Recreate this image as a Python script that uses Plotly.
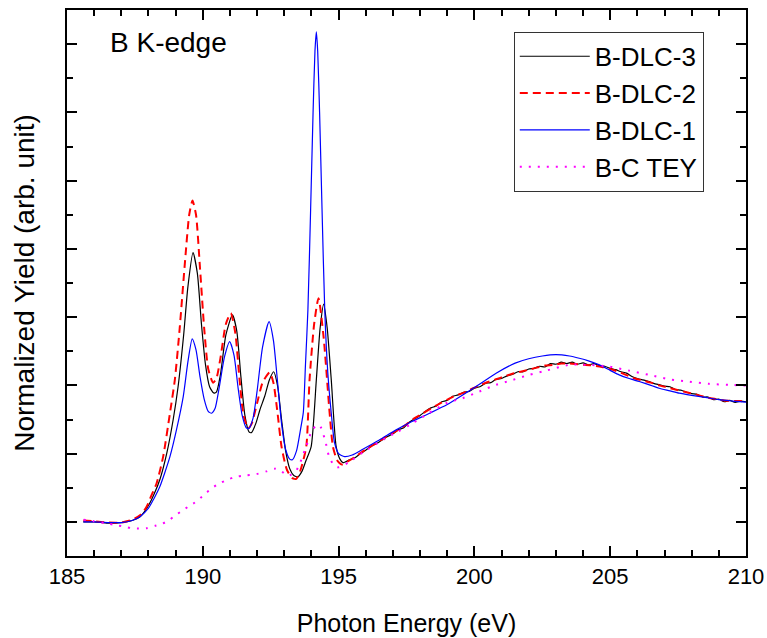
import plotly.graph_objects as go

# ---- B-DLC-3 (black) ----
e_dlc3 = [185.6, 186.0, 186.5, 187.0, 187.4, 187.7, 188.0, 188.2, 188.42, 188.67,
          188.91, 189.09, 189.3, 189.45, 189.64, 189.8, 189.95, 190.1, 190.25, 190.4,
          190.5, 190.65, 190.85, 191.09, 191.25, 191.4, 191.55, 191.7, 191.79, 191.95,
          192.1, 192.28, 192.45, 192.61, 192.75, 192.9, 193.05, 193.2, 193.35, 193.5,
          193.65, 193.8, 193.99, 194.18, 194.32, 194.45, 194.58, 194.73, 194.91, 195.05,
          195.16, 195.4,
          195.6, 195.8, 196.0, 196.2, 196.4, 196.6, 196.8, 197.0, 197.2, 197.4,
          197.6, 197.8, 198.0, 198.2, 198.4, 198.6, 198.8, 199.0, 199.2, 199.4,
          199.6, 199.8, 200.0, 200.2, 200.4, 200.6, 200.8, 201.0, 201.2, 201.4,
          201.6, 201.8, 202.0, 202.2, 202.4, 202.6, 202.8, 203.0, 203.2, 203.4,
          203.6, 203.8, 204.0, 204.2, 204.4, 204.6, 204.8, 205.0, 205.2, 205.4,
          205.6, 205.8, 206.0, 206.2, 206.4, 206.6, 206.8, 207.0, 207.2, 207.4,
          207.6, 207.8, 208.0, 208.2, 208.4, 208.6, 208.8, 209.0, 209.2, 209.4,
          209.6, 209.8, 210.0]
y_dlc3 = [0.0, 0.0, -0.01, -0.005, 0.01, 0.04, 0.12, 0.2, 0.31, 0.5,
          0.75, 0.99, 1.38, 1.72, 1.973, 1.82, 1.45, 1.15, 0.99, 0.945,
          0.95, 1.08, 1.37, 1.516, 1.4, 1.07, 0.78, 0.66, 0.654, 0.72,
          0.82, 0.92, 1.04, 1.1, 1.0, 0.75, 0.52, 0.39, 0.34, 0.33,
          0.37, 0.45, 0.552, 1.04, 1.42, 1.595, 1.42, 1.04, 0.552, 0.46,
          0.434, 0.455,
          0.47, 0.5, 0.525, 0.555, 0.575, 0.6, 0.625, 0.645, 0.675, 0.69,
          0.73, 0.755, 0.78, 0.81, 0.835, 0.85, 0.88, 0.89, 0.92, 0.93,
          0.95, 0.955, 0.98, 0.99, 1.015, 1.02, 1.045, 1.05, 1.07, 1.08,
          1.1, 1.1, 1.12, 1.125, 1.14, 1.135, 1.16, 1.155, 1.17, 1.16,
          1.17, 1.155, 1.165, 1.15, 1.16, 1.145, 1.14, 1.125, 1.115, 1.1,
          1.09, 1.065, 1.05, 1.04, 1.03, 1.015, 1.005, 0.995, 0.99, 0.97,
          0.965, 0.95, 0.94, 0.935, 0.915, 0.915, 0.895, 0.9, 0.88, 0.89,
          0.875, 0.885, 0.88]

# ---- B-DLC-2 (red dashed) ----
e_dlc2 = [185.6, 186.0, 186.5, 187.0, 187.4, 187.7, 187.93, 188.1, 188.3, 188.54,
          188.79, 188.97, 189.15, 189.35, 189.5, 189.62, 189.75, 189.9, 190.05, 190.2,
          190.38, 190.5, 190.65, 190.85, 191.03, 191.2, 191.35, 191.5, 191.67, 191.8,
          192.0, 192.2, 192.46, 192.6, 192.75, 192.9, 193.1, 193.3, 193.44, 193.6,
          193.81, 193.93, 194.1, 194.26, 194.45, 194.67, 194.79, 194.95, 195.12,
          195.4, 195.7, 196.0, 196.3, 196.6, 196.9, 197.2, 197.5, 197.8, 198.1,
          198.4, 198.7, 199.0, 199.3, 199.6, 199.9, 200.2, 200.5, 200.8, 201.1,
          201.4, 201.7, 202.0, 202.3, 202.6, 202.9, 203.2, 203.5, 203.8, 204.1,
          204.4, 204.7, 205.0, 205.3, 205.6, 205.9, 206.2, 206.5, 206.8, 207.1,
          207.4, 207.7, 208.0, 208.3, 208.6, 208.9, 209.2, 209.5, 209.8, 210.0]
y_dlc2 = [0.01, 0.005, -0.005, -0.005, 0.015, 0.05, 0.11, 0.19, 0.283, 0.478,
          0.796, 1.04, 1.42, 1.92, 2.25, 2.354, 2.25, 1.85, 1.42, 1.12,
          1.02, 1.05, 1.2, 1.45, 1.529, 1.38, 1.05, 0.78, 0.686, 0.72,
          0.87, 1.02, 1.094, 1.02, 0.8, 0.55, 0.38, 0.32, 0.315, 0.38,
          0.552, 1.04, 1.45, 1.639, 1.35, 0.796, 0.552, 0.45, 0.42,
          0.45, 0.49, 0.53, 0.565, 0.605, 0.64, 0.675, 0.715, 0.76, 0.795,
          0.83, 0.865, 0.895, 0.925, 0.945, 0.975, 1.0, 1.025, 1.045, 1.065,
          1.085, 1.1, 1.115, 1.13, 1.145, 1.15, 1.16, 1.16, 1.155, 1.15,
          1.145, 1.135, 1.12, 1.1, 1.075, 1.05, 1.035, 1.02, 1.0, 0.985,
          0.97, 0.955, 0.94, 0.925, 0.91, 0.9, 0.89, 0.885, 0.885, 0.88]

# ---- B-DLC-1 (blue) ----
e_dlc1 = [185.6, 186.0, 186.5, 187.0, 187.4, 187.7, 188.0, 188.2, 188.42, 188.6,
          188.79, 189.03, 189.28, 189.45, 189.61, 189.75, 189.9, 190.05, 190.2, 190.32,
          190.45, 190.6, 190.8, 190.99, 191.15, 191.3, 191.45, 191.6, 191.7, 191.85,
          192.0, 192.2, 192.44, 192.6, 192.75, 192.9, 193.05, 193.2, 193.3, 193.45,
          193.6, 193.7, 193.78, 193.87, 193.97, 194.06, 194.13, 194.18, 194.23, 194.3,
          194.39, 194.49, 194.6, 194.73, 194.85, 195.0, 195.22, 195.5, 195.89, 196.5,
          197.12, 197.7, 198.35, 199.0, 199.57, 200.2, 200.8, 201.5, 202.0, 202.5,
          203.0, 203.5, 203.86, 204.2, 204.6, 205.0, 205.33, 205.7, 206.07, 206.5,
          206.8, 207.2, 207.54, 208.0, 208.5, 209.0, 209.5, 210.0]
y_dlc1 = [0.0, 0.0, -0.005, -0.005, 0.01, 0.04, 0.1, 0.17, 0.259, 0.36,
          0.478, 0.674, 0.918, 1.17, 1.341, 1.26, 1.06, 0.9, 0.81, 0.796,
          0.83, 0.98, 1.21, 1.321, 1.22, 0.98, 0.78, 0.69, 0.685, 0.76,
          0.96, 1.28, 1.467, 1.33, 1.03, 0.72, 0.53, 0.46, 0.455, 0.52,
          0.68, 0.8, 1.15, 1.553, 2.29, 3.0, 3.45, 3.59, 3.45, 3.0,
          2.29, 1.553, 1.1, 0.796, 0.58, 0.5, 0.478, 0.49, 0.532, 0.6,
          0.674, 0.735, 0.796, 0.86, 0.93, 1.01, 1.089, 1.163, 1.195, 1.215,
          1.225, 1.215, 1.199, 1.18, 1.15, 1.11, 1.077, 1.05, 1.028, 1.0,
          0.979, 0.96, 0.943, 0.927, 0.912, 0.895, 0.885, 0.877]

# ---- B-C TEY (magenta dotted) ----
e_tey = [185.61, 186.0, 186.4, 186.78, 187.08, 187.39, 187.65, 187.94, 188.25, 188.49,
         188.74, 188.98, 189.23, 189.47, 189.72, 190.0, 190.26, 190.55, 190.87, 191.2,
         191.54, 191.97, 192.34, 192.65, 192.9, 193.14, 193.45, 193.8, 194.05, 194.28,
         194.5, 194.65, 194.85, 195.0, 195.4, 195.9, 196.5, 197.12, 197.7, 198.35,
         198.96, 199.57, 200.18, 200.8, 201.41, 202.02, 202.64, 203.49, 204.23, 204.96,
         205.7, 206.43, 207.17, 207.9, 208.64, 209.38, 210.0]
y_tey = [0.015, 0.005, -0.01, -0.022, -0.034, -0.046, -0.048, -0.046, -0.029, -0.015,
         0.01, 0.046, 0.081, 0.112, 0.144, 0.19, 0.234, 0.275, 0.305, 0.33,
         0.34, 0.35, 0.37, 0.39, 0.37, 0.337, 0.38, 0.55, 0.68, 0.711,
         0.6, 0.48, 0.41, 0.4, 0.44, 0.51, 0.585, 0.655, 0.72, 0.8,
         0.869, 0.906, 0.955, 1.004, 1.04, 1.077, 1.108, 1.15, 1.15, 1.138,
         1.108, 1.077, 1.045, 1.028, 1.011, 1.004, 0.999]

FONT = "Liberation Sans, Arial, sans-serif"

fig = go.Figure()
fig.add_trace(go.Scatter(x=e_dlc3, y=y_dlc3, name="B-DLC-3", mode="lines",
                         line=dict(color="black", width=1.2, shape="spline", smoothing=0.6)))
fig.add_trace(go.Scatter(x=e_dlc2, y=y_dlc2, name="B-DLC-2", mode="lines",
                         line=dict(color="#ff0000", width=2, dash="8px,5px",
                                   shape="spline", smoothing=0.6)))
fig.add_trace(go.Scatter(x=e_dlc1, y=y_dlc1, name="B-DLC-1", mode="lines",
                         line=dict(color="#0000ff", width=1.2, shape="spline", smoothing=0.6)))
fig.add_trace(go.Scatter(x=e_tey, y=y_tey, name="B-C TEY", mode="lines",
                         line=dict(color="#ff00ff", width=2, dash="2px,7px",
                                   shape="spline", smoothing=0.8)))

axis_common = dict(
    showline=True, linecolor="black", linewidth=2, mirror="allticks",
    ticks="inside", ticklen=10, tickwidth=2, tickcolor="black",
    showgrid=False, zeroline=False, automargin=False,
)

fig.update_xaxes(
    range=[185, 210], tick0=185, dtick=5,
    minor=dict(dtick=1, ticks="inside", ticklen=6, tickwidth=2, tickcolor="black"),
    tickfont=dict(family=FONT, size=22, color="black"),
    title=dict(text="Photon Energy (eV)", font=dict(family=FONT, size=25, color="black"),
               standoff=26),
    **axis_common,
)
fig.update_yaxes(
    range=[-0.25, 3.75], tick0=0, dtick=0.5, showticklabels=False,
    minor=dict(dtick=0.25, ticks="inside", ticklen=6, tickwidth=2, tickcolor="black"),
    title=dict(text="Normalized Yield (arb. unit)",
               font=dict(family=FONT, size=28, color="black"), standoff=22),
    **axis_common,
)

fig.add_annotation(x=0.06, y=0.94, xref="paper", yref="paper", text="B K-edge",
                   showarrow=False, xanchor="left", yanchor="middle",
                   font=dict(family=FONT, size=28, color="black"))

fig.update_layout(
    width=767, height=638,
    margin=dict(l=67, r=21, t=10, b=82),
    paper_bgcolor="white", plot_bgcolor="white",
    showlegend=True,
    legend=dict(x=0.658, y=0.96, xanchor="left", yanchor="top",
                bgcolor="white", bordercolor="#333333", borderwidth=1,
                font=dict(family=FONT, size=26, color="black"),
                itemwidth=70, tracegroupgap=0),
)

fig.write_html("out.html")
